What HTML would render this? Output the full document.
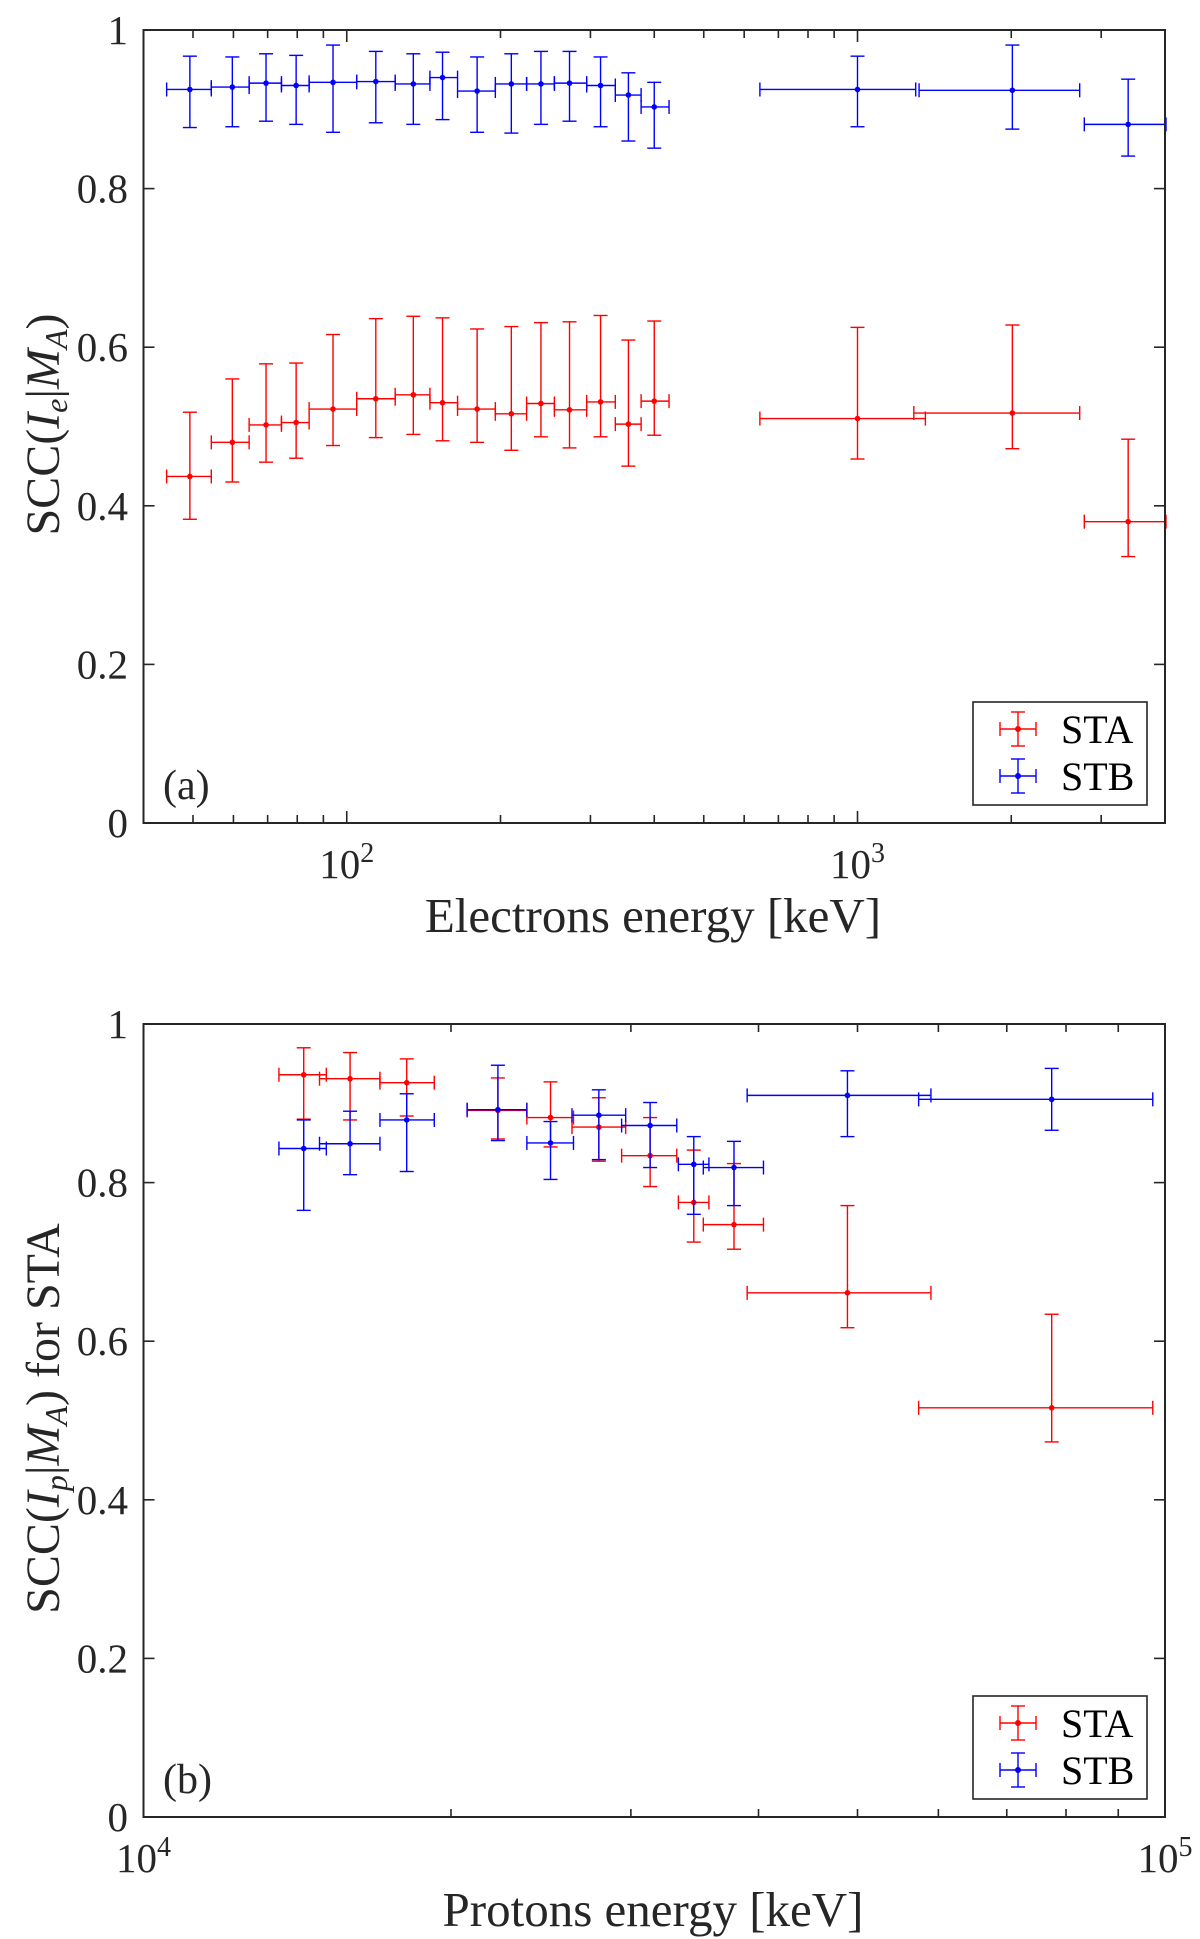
<!DOCTYPE html>
<html><head><meta charset="utf-8"><style>
html,body{margin:0;padding:0;background:#fff;}
svg{display:block;font-family:"Liberation Serif",serif;}
</style></head><body>
<svg id="fig" width="1200" height="1939" viewBox="0 0 1200 1939" xmlns="http://www.w3.org/2000/svg"></svg>
<script>
// Panel (a): electrons
const aEnergyA = [49.3,59.7,69.5,79.6,94,114,135,154,180,210,240,273,314,356,400,1000,2010,3388];
const aLoA = [44.4,54.3,64.4,74.5,84.4,104.6,124.4,145.5,164.8,195.4,225,255,295,335.6,377,644,1289,2780];
const aHiA = [54.3,64.4,74.5,84.4,104.6,124.4,145.5,164.8,195.4,225,255,295,335.6,377,427.6,1358,2723,4018];
const aSTA = [0.437,0.480,0.502,0.505,0.522,0.535,0.540,0.530,0.522,0.516,0.529,0.521,0.531,0.503,0.532,0.510,0.517,0.380];
const aSTAlo = [0.383,0.430,0.455,0.460,0.476,0.486,0.490,0.482,0.480,0.470,0.487,0.473,0.487,0.450,0.489,0.459,0.472,0.336];
const aSTAhi = [0.518,0.560,0.579,0.580,0.616,0.636,0.639,0.637,0.623,0.626,0.631,0.632,0.640,0.609,0.633,0.625,0.628,0.484];
const aLoB = [44.4,54.3,64.4,74.5,84.4,104.6,124.4,145.5,164.8,195.4,225,255,295,335.6,377,644,1320,2780];
const aHiB = [54.3,64.4,74.5,84.4,104.6,124.4,145.5,164.8,195.4,225,255,295,335.6,377,427.6,1300,2723,4018];
const aSTB = [0.925,0.928,0.933,0.930,0.934,0.935,0.932,0.940,0.923,0.932,0.932,0.933,0.930,0.918,0.903,0.925,0.924,0.881];
const aSTBlo = [0.877,0.878,0.885,0.881,0.871,0.883,0.881,0.887,0.871,0.870,0.881,0.885,0.878,0.860,0.851,0.878,0.875,0.841];
const aSTBhi = [0.967,0.966,0.970,0.968,0.981,0.973,0.970,0.972,0.966,0.970,0.973,0.973,0.966,0.946,0.934,0.967,0.981,0.938];
// Panel (b): protons
const bEnergy = [14350,15930,18100,22230,25030,27910,31330,34570,37850,48880,77460];
const bLo = [13570,14870,17040,20740,23730,26270,29380,33390,35320,38990,57390];
const bHi = [15100,17040,19260,23730,26360,29650,33270,35770,40450,59000,97280];
const bSTA = [0.936,0.931,0.926,0.891,0.882,0.870,0.834,0.775,0.747,0.661,0.516];
const bSTAlo = [0.880,0.879,0.884,0.855,0.845,0.827,0.795,0.725,0.716,0.617,0.473];
const bSTAhi = [0.970,0.964,0.956,0.932,0.927,0.907,0.882,0.841,0.824,0.771,0.634];
const bSTB = [0.843,0.849,0.879,0.892,0.850,0.885,0.872,0.823,0.819,0.910,0.905];
const bSTBlo = [0.765,0.810,0.814,0.853,0.804,0.829,0.819,0.760,0.771,0.858,0.866];
const bSTBhi = [0.879,0.890,0.912,0.948,0.877,0.917,0.901,0.858,0.852,0.941,0.944];
const yTicks = [0,0.2,0.4,0.6,0.8,1];
const yTickLabels = ["0","0.2","0.4","0.6","0.8","1"];

const NS="http://www.w3.org/2000/svg";
const svg=document.getElementById('fig');
function el(tag,attrs,parent,text){const e=document.createElementNS(NS,tag);for(const k in attrs)e.setAttribute(k,attrs[k]);if(text!==undefined)e.textContent=text;(parent||svg).appendChild(e);return e;}

function panel(P){
  const g=el('g',{});
  
  
  const L=143.5,R=1165,T=P.top,B=P.top+793;
  const lx0=Math.log10(P.xmin),lx1=Math.log10(P.xmax);
  const sx=v=>L+(Math.log10(v)-lx0)/(lx1-lx0)*(R-L);
  const sy=v=>B-v*(B-T);
  const tk=el('g',{stroke:'#262626','stroke-width':1.6},g);
  
  
  for(let d=Math.floor(lx0);d<=Math.ceil(lx1);d++){
    for(let m=1;m<10;m++){const v=m*Math.pow(10,d);if(v<P.xmin-1e-9||v>P.xmax+1e-9)continue;
      const x=sx(v),len=m===1?12:8;
      el('line',{x1:x,x2:x,y1:B,y2:B-len},tk);el('line',{x1:x,x2:x,y1:T,y2:T+len},tk);}
  }
  yTicks.forEach((v,i)=>{const y=sy(v);
    el('line',{x1:L,x2:L+11,y1:y,y2:y},tk);el('line',{x1:R,x2:R-11,y1:y,y2:y},tk);
    const t=el('text',{x:128,y:y+14,'text-anchor':'end','font-size':41,fill:'#262626'},g,yTickLabels[i]);
    
    
  });
  P.xLabels.forEach(xl=>{
    const t=el('text',{x:sx(xl.v),y:P.xTickY,'text-anchor':'middle','font-size':41,fill:'#262626'},g);
    
    
    el('tspan',{},t,'10');el('tspan',{dy:-16,'font-size':28},t,xl.e);
  });
  function series(E,lo,hi,Y,ylo,yhi,col,nm){
    const s=el('g',{stroke:col,'stroke-width':1.4,fill:col},g);
    
    
    for(let i=0;i<Y.length;i++){
      const x=sx(E[i]),y=sy(Y[i]),x1=sx(lo[i]),x2=sx(hi[i]),y1=sy(ylo[i]),y2=sy(yhi[i]);
      const p=el('g',{},s);
      
      
      el('line',{x1:x1,x2:x2,y1:y,y2:y},p);
      el('line',{x1:x1,x2:x1,y1:y-7,y2:y+7},p);el('line',{x1:x2,x2:x2,y1:y-7,y2:y+7},p);
      el('line',{x1:x,x2:x,y1:y1,y2:y2},p);
      el('line',{x1:x-7,x2:x+7,y1:y1,y2:y1},p);el('line',{x1:x-7,x2:x+7,y1:y2,y2:y2},p);
      el('circle',{cx:x,cy:y,r:2.8,stroke:'none'},p);
    }
  }
  P.series.forEach(a=>series(...a));
  const fr=el('rect',{x:L,y:T,width:R-L,height:B-T,fill:'none',stroke:'#262626','stroke-width':2},g);
  
  
  const lg=el('g',{},g);
  
  
  el('rect',{x:973,y:B-121,width:174,height:103,fill:'#fff',stroke:'#262626','stroke-width':1.6},lg);
  [['STA','#ff0000',B-94],['STB','#0000ff',B-47]].forEach(([n,c,y])=>{
    const en=el('g',{stroke:c,'stroke-width':1.4},lg);
    
    
    el('line',{x1:1000,x2:1036,y1:y,y2:y},en);el('line',{x1:1018,x2:1018,y1:y-17,y2:y+17},en);
    el('line',{x1:1000,x2:1000,y1:y-7,y2:y+7},en);el('line',{x1:1036,x2:1036,y1:y-7,y2:y+7},en);
    el('line',{x1:1011,x2:1025,y1:y-17,y2:y-17},en);el('line',{x1:1011,x2:1025,y1:y+17,y2:y+17},en);
    el('circle',{cx:1018,cy:y,r:3,fill:c,stroke:'none'},en);
    el('text',{x:1061,y:y+14,'font-size':40,fill:'#000',stroke:'none'},en,n);
  });
  const pl=el('text',{x:163,y:B-24,'font-size':42,fill:'#262626'},g,P.tag);
  
  
  const xl=el('text',{x:653,y:P.xTitleY,'text-anchor':'middle','font-size':49,fill:'#262626'},g,P.xTitle);
  
  
  const yl=el('text',{x:0,y:0,'text-anchor':'middle','font-size':48,fill:'#262626',transform:`translate(59,${(T+B)/2-2}) rotate(-90)`},g);
  
  
  el('tspan',{},yl,'SCC(');el('tspan',{'font-style':'italic'},yl,P.yVar);
  el('tspan',{'font-size':32,dy:8,'font-style':'italic'},yl,P.ySub);
  el('tspan',{dy:-8},yl,'|');el('tspan',{'font-style':'italic'},yl,'M');
  el('tspan',{'font-size':32,dy:8,'font-style':'italic'},yl,'A');
  el('tspan',{dy:-8},yl,')'+P.ySuffix);
}
panel({name:'panel-a-electrons',top:30,xmin:40,xmax:4000,xTickY:878,xTitleY:932,
  xLabels:[{v:100,e:'2'},{v:1000,e:'3'}],tag:'(a)',xTitle:'Electrons energy [keV]',yVar:'I',ySub:'e',ySuffix:'',
  series:[[aEnergyA,aLoA,aHiA,aSTA,aSTAlo,aSTAhi,'#ff0000','sta-series'],[aEnergyA,aLoB,aHiB,aSTB,aSTBlo,aSTBhi,'#0000ff','stb-series']]});
panel({name:'panel-b-protons',top:1024,xmin:10000,xmax:100000,xTickY:1872,xTitleY:1926,
  xLabels:[{v:10000,e:'4'},{v:100000,e:'5'}],tag:'(b)',xTitle:'Protons energy [keV]',yVar:'I',ySub:'p',ySuffix:' for STA',
  series:[[bEnergy,bLo,bHi,bSTA,bSTAlo,bSTAhi,'#ff0000','sta-series'],[bEnergy,bLo,bHi,bSTB,bSTBlo,bSTBhi,'#0000ff','stb-series']]});
</script>
</body></html>
